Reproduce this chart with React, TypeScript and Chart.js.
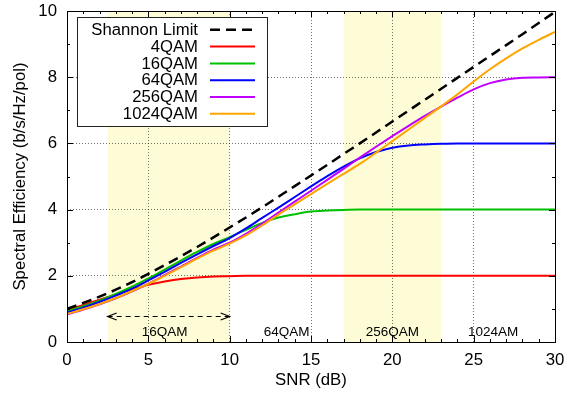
import React, { useEffect, useRef } from "react";
import { Chart, registerables } from "chart.js";

Chart.register(...registerables);

// ---- data ----
const snrDb = [0, 1, 2, 3, 4, 5, 6, 7, 8, 9, 10, 11, 12, 13, 14, 15, 16, 17, 18, 19, 20, 21, 22, 23, 24, 25, 26, 27, 28, 29, 30];

const shannonLimit = [1.0, 1.18, 1.37, 1.58, 1.81, 2.06, 2.32, 2.59, 2.87, 3.16, 3.46, 3.76, 4.07, 4.39, 4.71, 5.03, 5.35, 5.68, 6.0, 6.33, 6.66, 6.99, 7.32, 7.65, 7.98, 8.31, 8.64, 8.97, 9.3, 9.64, 9.97];
const qam4 = [0.97, 1.12, 1.28, 1.44, 1.59, 1.73, 1.83, 1.9, 1.95, 1.98, 1.99, 2.0, 2.0, 2.0, 2.0, 2.0, 2.0, 2.0, 2.0, 2.0, 2.0, 2.0, 2.0, 2.0, 2.0, 2.0, 2.0, 2.0, 2.0, 2.0, 2.0];
const qam16 = [0.93, 1.08, 1.25, 1.45, 1.67, 1.92, 2.19, 2.46, 2.72, 2.96, 3.17, 3.39, 3.6, 3.76, 3.86, 3.94, 3.97, 3.99, 4.0, 4.0, 4.0, 4.0, 4.0, 4.0, 4.0, 4.0, 4.0, 4.0, 4.0, 4.0, 4.0];
const qam64 = [0.89, 1.04, 1.21, 1.4, 1.61, 1.86, 2.12, 2.39, 2.65, 2.9, 3.14, 3.43, 3.75, 4.06, 4.38, 4.7, 5.01, 5.3, 5.55, 5.74, 5.87, 5.94, 5.97, 5.99, 6.0, 6.0, 6.0, 6.0, 6.0, 6.0, 6.0];
const qam256 = [0.83, 0.98, 1.14, 1.32, 1.53, 1.76, 2.02, 2.28, 2.54, 2.79, 3.0, 3.27, 3.58, 3.91, 4.24, 4.57, 4.9, 5.23, 5.57, 5.9, 6.22, 6.53, 6.83, 7.11, 7.38, 7.63, 7.82, 7.93, 7.98, 7.99, 8.0];
const qam1024 = [0.85, 0.99, 1.15, 1.33, 1.54, 1.76, 2.0, 2.26, 2.52, 2.76, 2.97, 3.22, 3.52, 3.85, 4.16, 4.47, 4.78, 5.08, 5.38, 5.72, 6.07, 6.42, 6.77, 7.12, 7.48, 7.87, 8.24, 8.57, 8.87, 9.13, 9.37];

const seriesLabels = ["Shannon Limit", "4QAM", "16QAM", "64QAM", "256QAM", "1024QAM"];
const seriesValues = [shannonLimit, qam4, qam16, qam64, qam256, qam1024];
const seriesColors = ["#000000", "#ff0000", "#00c000", "#0000ff", "#c000ff", "#ffa500"];

const shadedBands = [
  [2.5, 10],
  [17, 23],
];
const arrowFromTo = [2.5, 10];
const arrowLevel = 0.8;
const regionLabels = ["16QAM", "64QAM", "256QAM", "1024AM"];
const regionLabelX = [6, 13.5, 20, 26.2];
const regionLabelLevel = 0.3;

const xMin = 0;
const xMax = 30;
const xStep = 5;
const yMin = 0;
const yMax = 10;
const yStep = 2;

const FONT = "'Liberation Sans', Arial, Helvetica, sans-serif";

const overlayPlugin = {
  id: "overlay",
  beforeDraw(chart: any) {
    const { ctx, chartArea } = chart;
    const xs = chart.scales.x;
    ctx.save();
    ctx.fillStyle = "#fdfcd6";
    for (const [a, b] of shadedBands) {
      const x0 = xs.getPixelForValue(a);
      const x1 = xs.getPixelForValue(b);
      ctx.fillRect(x0, chartArea.top, x1 - x0, chartArea.bottom - chartArea.top);
    }
    ctx.restore();
  },
  afterDatasetsDraw(chart: any) {
    const { ctx, chartArea } = chart;
    const xs = chart.scales.x;
    const ys = chart.scales.y;
    const { left, right, top, bottom } = chartArea;
    ctx.save();

    // border box
    ctx.strokeStyle = "#000";
    ctx.lineWidth = 1;
    ctx.setLineDash([]);
    ctx.strokeRect(Math.round(left) + 0.5, Math.round(top) + 0.5, Math.round(right - left), Math.round(bottom - top));

    // inward ticks (major + minor) on all four sides
    ctx.beginPath();
    for (let v = xMin; v <= xMax; v += 1) {
      const px = Math.round(xs.getPixelForValue(v)) + 0.5;
      const len = v % xStep === 0 ? 6 : 3;
      ctx.moveTo(px, bottom);
      ctx.lineTo(px, bottom - len);
      ctx.moveTo(px, top);
      ctx.lineTo(px, top + len);
    }
    for (let v = yMin; v <= yMax; v += 1) {
      const py = Math.round(ys.getPixelForValue(v)) + 0.5;
      const len = v % yStep === 0 ? 6 : 3;
      ctx.moveTo(left, py);
      ctx.lineTo(left + len, py);
      ctx.moveTo(right, py);
      ctx.lineTo(right - len, py);
    }
    ctx.stroke();

    // double-headed dashed arrow
    const ax0 = xs.getPixelForValue(arrowFromTo[0]);
    const ax1 = xs.getPixelForValue(arrowFromTo[1]);
    const ay = Math.round(ys.getPixelForValue(arrowLevel)) + 0.5;
    ctx.lineWidth = 1.2;
    ctx.setLineDash([5, 4]);
    ctx.beginPath();
    ctx.moveTo(ax0, ay);
    ctx.lineTo(ax1, ay);
    ctx.stroke();
    ctx.setLineDash([]);
    ctx.beginPath();
    ctx.moveTo(ax0 + 9, ay - 3.5);
    ctx.lineTo(ax0, ay);
    ctx.lineTo(ax0 + 9, ay + 3.5);
    ctx.moveTo(ax1 - 9, ay - 3.5);
    ctx.lineTo(ax1, ay);
    ctx.lineTo(ax1 - 9, ay + 3.5);
    ctx.stroke();

    // region labels
    ctx.fillStyle = "#000";
    ctx.font = `13.5px ${FONT}`;
    ctx.textAlign = "center";
    ctx.textBaseline = "middle";
    regionLabels.forEach((t, i) => {
      ctx.fillText(t, xs.getPixelForValue(regionLabelX[i]), ys.getPixelForValue(regionLabelLevel));
    });

    // legend
    const bx = left + 10;
    const by = top + 6;
    const bw = 190;
    const bh = 109;
    ctx.fillStyle = "#fff";
    ctx.fillRect(bx, by, bw, bh);
    ctx.strokeStyle = "#222";
    ctx.lineWidth = 1;
    ctx.strokeRect(Math.round(bx) + 0.5, Math.round(by) + 0.5, bw, bh);
    ctx.font = `16.7px ${FONT}`;
    ctx.textAlign = "right";
    ctx.textBaseline = "middle";
    chart.data.datasets.forEach((ds: any, i: number) => {
      const ry = by + 12.8 + i * 16.8;
      ctx.fillStyle = "#000";
      ctx.fillText(ds.label, bx + 121, ry + 0.5);
      ctx.strokeStyle = ds.borderColor;
      ctx.lineWidth = ds.borderWidth;
      ctx.setLineDash(ds.borderDash || []);
      ctx.beginPath();
      ctx.moveTo(bx + 133, ry);
      ctx.lineTo(bx + 178, ry);
      ctx.stroke();
    });
    ctx.restore();
  },
};

export default function App() {
  const canvasRef = useRef<HTMLCanvasElement | null>(null);

  useEffect(() => {
    const canvas = canvasRef.current;
    if (!canvas) return;
    const datasets = seriesLabels.map((label, i) => ({
      label,
      data: snrDb.map((x, k) => ({ x, y: seriesValues[i][k] })),
      borderColor: seriesColors[i],
      backgroundColor: seriesColors[i],
      borderWidth: i === 0 ? 2.5 : 2,
      borderDash: i === 0 ? [10, 6] : [],
      pointRadius: 0,
      fill: false,
      cubicInterpolationMode: "monotone" as const,
      order: i === 0 ? 0 : 6 - i,
    }));

    const chart = new Chart(canvas, {
      type: "line",
      data: { datasets },
      plugins: [overlayPlugin],
      options: {
        animation: false,
        responsive: false,
        maintainAspectRatio: false,
        layout: { padding: 0 },
        plugins: {
          legend: { display: false },
          tooltip: { enabled: false },
        },
        scales: {
          x: {
            type: "linear",
            min: xMin,
            max: xMax,
            border: { display: false },
            grid: {
              color: "rgba(0,0,0,0.55)",
              lineWidth: 1,
              drawTicks: false,
            },
            ticks: {
              stepSize: xStep,
              padding: 8,
              color: "#000",
              font: { family: FONT, size: 16.8 },
              maxRotation: 0,
            },
            title: {
              display: true,
              text: "SNR (dB)",
              color: "#000",
              font: { family: FONT, size: 16.8 },
              padding: { top: 0, bottom: 8 },
            },
            afterFit(scale: any) {
              scale.height = 56;
              scale.paddingLeft = 0;
              scale.paddingRight = 13;
            },
          },
          y: {
            type: "linear",
            min: yMin,
            max: yMax,
            border: { display: false },
            grid: {
              color: "rgba(0,0,0,0.55)",
              lineWidth: 1,
              drawTicks: false,
            },
            ticks: {
              stepSize: yStep,
              padding: 10,
              color: "#000",
              font: { family: FONT, size: 16.8 },
            },
            title: {
              display: true,
              text: "Spectral Efficiency (b/s/Hz/pol)",
              color: "#000",
              font: { family: FONT, size: 16.8 },
              padding: { top: 10, bottom: 0 },
            },
            afterFit(scale: any) {
              scale.width = 67;
              scale.paddingTop = 11;
              scale.paddingBottom = 0;
            },
          },
        },
      },
    });

    // dotted grid lines
    (chart.options.scales as any).x.border = { display: false, dash: [1, 2] };
    (chart.options.scales as any).y.border = { display: false, dash: [1, 2] };
    chart.update();

    return () => chart.destroy();
  }, []);

  return (
    <div style={{ position: "absolute", left: 0, top: 0, width: 568, height: 398, background: "#fff" }}>
      <canvas ref={canvasRef} width={568} height={398} style={{ display: "block" }} />
    </div>
  );
}
